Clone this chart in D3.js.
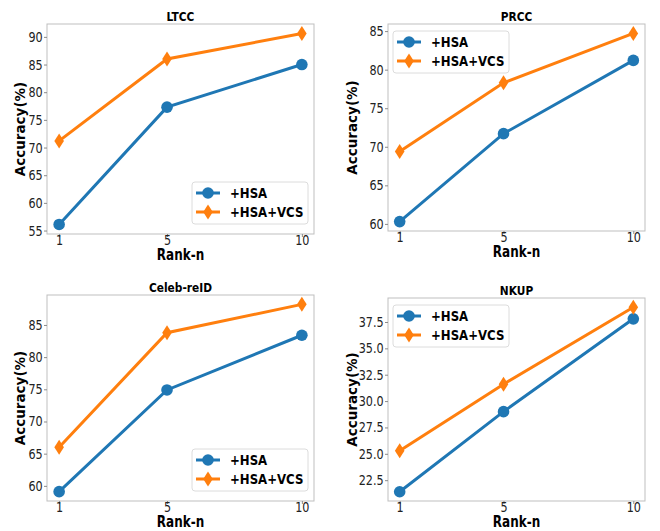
<!DOCTYPE html>
<html>
<head>
<meta charset="utf-8">
<script src="https://cdn.jsdelivr.net/npm/d3@7"></script>
<style>
  body { margin: 0; background: #fff; }
  svg { display: block; font-family: "DejaVu Sans", sans-serif; }
</style>
</head>
<body>
<div id="chart"></div>
<script>
// rank-n positions on the x axis
const ranks = [1, 5, 10];

const titles = ["LTCC", "PRCC", "Celeb-reID", "NKUP"];
const seriesNames = ["+HSA", "+HSA+VCS"];

// accuracy values per dataset
const ltccHSA = [56.1, 77.3, 85.0];
const ltccVCS = [71.2, 86.0, 90.6];
const prccHSA = [60.3, 71.7, 81.2];
const prccVCS = [69.4, 78.3, 84.7];
const celebHSA = [59.1, 74.9, 83.4];
const celebVCS = [66.0, 83.8, 88.2];
const nkupHSA = [21.4, 29.0, 37.8];
const nkupVCS = [25.3, 31.6, 38.9];

// y tick labels per panel
const ltccTicks = [55, 60, 65, 70, 75, 80, 85, 90];
const prccTicks = [60, 65, 70, 75, 80, 85];
const celebTicks = [60, 65, 70, 75, 80, 85];
const nkupTicks = [22.5, 25.0, 27.5, 30.0, 32.5, 35.0, 37.5];

const W = 660, H = 531;
const colors = ["#1f77b4", "#ff7f0e"];

const panels = [
  { title: titles[0], series: [ltccHSA, ltccVCS], ticks: ltccTicks, fmt: d3.format("d"),
    box: { x: 47, y: 24, w: 267, h: 210 }, legend: "lower", labelOff: 22 },
  { title: titles[1], series: [prccHSA, prccVCS], ticks: prccTicks, fmt: d3.format("d"),
    box: { x: 388, y: 24, w: 257, h: 207 }, legend: "upper", labelOff: 31 },
  { title: titles[2], series: [celebHSA, celebVCS], ticks: celebTicks, fmt: d3.format("d"),
    box: { x: 47, y: 295, w: 267, h: 206 }, legend: "lower", labelOff: 22 },
  { title: titles[3], series: [nkupHSA, nkupVCS], ticks: nkupTicks, fmt: d3.format(".1f"),
    box: { x: 388, y: 298, w: 257, h: 203 }, legend: "upper", labelOff: 31 }
];

const svg = d3.select("#chart").append("svg")
  .attr("width", W)
  .attr("height", H);

// text squeezed sideways, like in the original picture
function squeezedText(parent, x, y, str, size, sx, opts) {
  opts = opts || {};
  var g = parent.append("g")
    .attr("transform", "translate(" + x + "," + y + ") scale(" + sx + ",1)" + (opts.rotate ? " rotate(-90)" : ""));
  return g.append("text")
    .attr("text-anchor", opts.anchor || "middle")
    .attr("font-size", size)
    .attr("font-weight", opts.bold ? "bold" : "normal")
    .attr("fill", "#000")
    .text(str);
}

function diamond(sel) {
  sel.attr("d", "M0,-7.5L4.8,0L0,7.5L-4.8,0Z");
}

panels.forEach(function(p) {
  var b = p.box;
  var g = svg.append("g").attr("transform", "translate(" + b.x + "," + b.y + ")");

  var x = d3.scaleLinear().domain([0.55, 10.45]).range([0, b.w]);
  var all = p.series[0].concat(p.series[1]);
  var lo = d3.min(all), hi = d3.max(all), pad = (hi - lo) * 0.05;
  var y = d3.scaleLinear().domain([lo - pad, hi + pad]).range([b.h, 0]);

  // frame
  g.append("rect")
    .attr("width", b.w).attr("height", b.h)
    .attr("fill", "none").attr("stroke", "#bfbfbf").attr("stroke-width", 1);

  var xAxis = g.append("g").attr("transform", "translate(0," + b.h + ")")
    .call(d3.axisBottom(x).tickValues(ranks).tickSize(3).tickFormat(d3.format("d")));
  var yAxis = g.append("g")
    .call(d3.axisLeft(y).tickValues(p.ticks).tickSize(3).tickFormat(p.fmt));

  [xAxis, yAxis].forEach(function(a) {
    a.select(".domain").remove();
    a.selectAll(".tick line").attr("stroke", "#8a8a8a");
    a.selectAll(".tick text")
      .attr("font-family", "DejaVu Sans, sans-serif")
      .attr("font-size", 14)
      .attr("fill", "#222");
  });
  xAxis.selectAll(".tick text").attr("y", 1.5).attr("dy", "0.71em").attr("transform", "scale(0.8,1)");
  yAxis.selectAll(".tick text").attr("x", -5.5).attr("transform", "scale(0.8,1)");

  // lines and markers
  var line = d3.line().x(function(d, i) { return x(ranks[i]); }).y(function(d) { return y(d); });
  p.series.forEach(function(vals, s) {
    g.append("path")
      .datum(vals)
      .attr("d", line)
      .attr("fill", "none")
      .attr("stroke", colors[s])
      .attr("stroke-width", 3);
    var m = g.selectAll(".m" + s).data(vals).enter();
    if (s === 0) {
      m.append("circle")
        .attr("cx", function(d, i) { return x(ranks[i]); })
        .attr("cy", function(d) { return y(d); })
        .attr("r", 5.8)
        .attr("fill", colors[s]);
    } else {
      m.append("path")
        .attr("transform", function(d, i) { return "translate(" + x(ranks[i]) + "," + y(d) + ")"; })
        .call(diamond)
        .attr("fill", colors[s]);
    }
  });

  // titles
  squeezedText(svg, b.x + b.w / 2, b.y - 3, p.title, 12.5, 0.85, { bold: true });
  squeezedText(svg, b.x + b.w / 2, b.y + b.h + 26, "Rank-n", 16, 0.75, { bold: true });
  squeezedText(svg, b.x - p.labelOff, b.y + b.h / 2, "Accuracy(%)", 13.5, 1, { bold: true, rotate: true });

  // legend
  var lw = 116, lh = 42;
  var lx = p.legend === "lower" ? b.w - lw - 6 : 5;
  var ly = p.legend === "lower" ? b.h - lh - 10 : 7;
  var lg = g.append("g").attr("transform", "translate(" + lx + "," + ly + ")");
  lg.append("rect")
    .attr("width", lw).attr("height", lh).attr("rx", 3)
    .attr("fill", "#fff").attr("fill-opacity", 0.8)
    .attr("stroke", "#dcdcdc");
  seriesNames.forEach(function(name, s) {
    var ry = 11 + s * 19;
    lg.append("line")
      .attr("x1", 4).attr("x2", 28).attr("y1", ry).attr("y2", ry)
      .attr("stroke", colors[s]).attr("stroke-width", 3);
    if (s === 0) {
      lg.append("circle").attr("cx", 16).attr("cy", ry).attr("r", 5.8).attr("fill", colors[s]);
    } else {
      lg.append("path").attr("transform", "translate(16," + ry + ")").call(diamond).attr("fill", colors[s]);
    }
    squeezedText(lg, 38, ry + 5, name, 14, 0.84, { bold: true, anchor: "start" });
  });
});
</script>
</body>
</html>
